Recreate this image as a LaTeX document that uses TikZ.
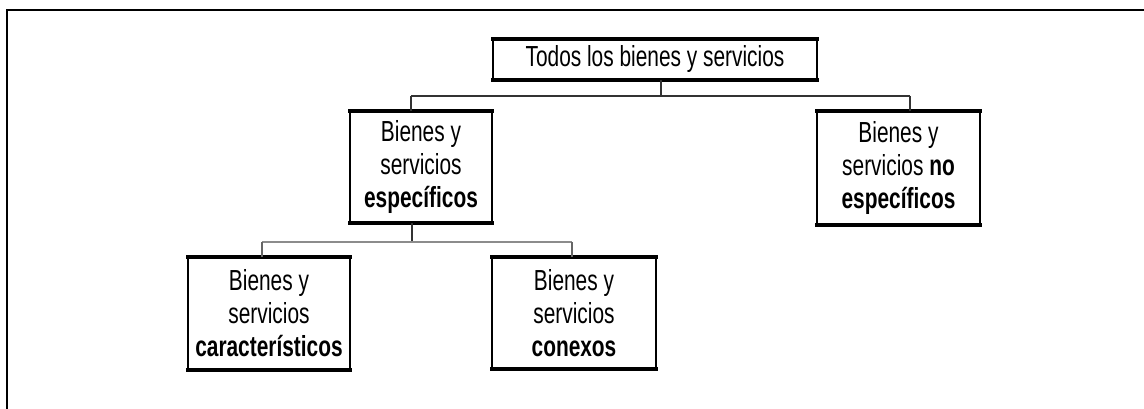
\documentclass[tikz,border=0pt]{standalone}
\usepackage{fontspec}
\setmainfont{Liberation Sans}[FakeStretch=0.72]
\begin{document}
\begin{tikzpicture}[x=1pt,y=-1pt,
  catbox/.style={draw=black,line width=1.4pt,fill=white,inner sep=0pt,outer sep=0pt,
    align=center,font=\fontsize{29}{33}\selectfont},
  thickedge/.style={line width=3.2pt,line cap=rect},
  conn/.style={draw=black!80,line width=1.4pt},
  connlight/.style={draw=black!45,line width=2.2pt}]
\useasboundingbox (0,0) rectangle (1144,409);
% outer frame (cut off at right and bottom)
\draw[line width=2.4pt] (7,409) -- (7,10) -- (1144,10);
% boxes
\node[catbox,minimum width=324pt,minimum height=41pt] (top) at (655,59.5) {Todos los bienes y servicios};
\node[catbox,minimum width=142pt,minimum height=112pt] (esp) at (421,167) {Bienes y\\servicios\\\textbf{específicos}};
\node[catbox,minimum width=163pt,minimum height=114pt] (noesp) at (898.5,168) {Bienes y\\servicios \textbf{no}\\\textbf{específicos}};
\node[catbox,minimum width=162pt,minimum height=113pt] (car) at (269,313.5) {Bienes y\\servicios\\\textbf{característicos}};
\node[catbox,minimum width=164pt,minimum height=112pt] (con) at (574,313) {Bienes y\\servicios\\\textbf{conexos}};
\foreach \n in {top,esp,noesp,car,con}{
  \draw[thickedge] (\n.north west) -- (\n.north east);
  \draw[thickedge] (\n.south west) -- (\n.south east);
}
% connectors level 1
\coordinate (j1) at (661,96);
\coordinate (j1l) at (411,96);
\coordinate (j1r) at (910,96);
\draw[conn] (top.south -| j1) -- (j1);
\draw[conn] (j1l) -- (j1r);
\draw[conn] (j1l) -- (esp.north -| j1l);
\draw[conn] (j1r) -- (noesp.north -| j1r);
% connectors level 2
\coordinate (j2) at (412,242);
\coordinate (j2l) at (262,242);
\coordinate (j2r) at (572,242);
\draw[conn] (esp.south -| j2) -- (j2);
\draw[connlight] (j2l) -- (j2r);
\draw[conn,draw=black!60] (j2l) -- (car.north -| j2l);
\draw[conn,draw=black!60] (j2r) -- (con.north -| j2r);
\end{tikzpicture}
\end{document}
